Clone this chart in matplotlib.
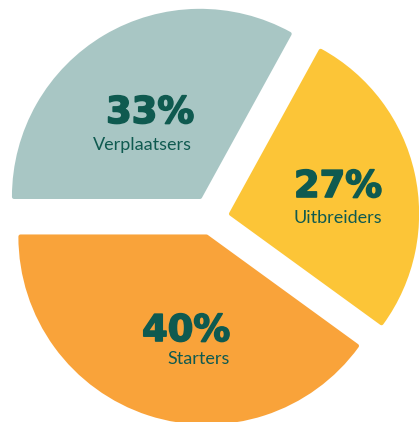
import matplotlib
matplotlib.use("Agg")
from matplotlib import pyplot as plt
from matplotlib import patheffects as pe

# data
groups = ['Verplaatsers', 'Uitbreiders', 'Starters']
shares = [33, 27, 40]
colors = ['#a8c6c4', '#fcc537', '#f9a33a']

W, H = 419, 422
TEXT_COLOR = '#0f5a50'


def px(x, y):
    # image pixel coords (y down) -> axes data coords (y up)
    return x, H - y


def plot_pie(name_output: str):
    fig = plt.figure(figsize=(W / 100, H / 100), dpi=100)
    ax = fig.add_axes([0, 0, 1, 1])

    center = px(212.5, 218)
    wedges, _ = ax.pie(shares, colors=colors, startangle=180, counterclock=False,
                       explode=[24.5, 19, 19.5], radius=186, center=center,
                       wedgeprops=dict(linewidth=3, joinstyle='round'))
    for w, c in zip(wedges, colors):
        w.set_edgecolor(c)

    ax.set_xlim(0, W)
    ax.set_ylim(0, H)
    ax.set_aspect('equal')
    ax.axis('off')

    # label positions (pixel coords of baselines)
    pct_pos = [(150, 123), (338, 197), (186, 341)]
    name_pos = [(142, 150), (338, 223), (199, 364)]
    heavy = [pe.withStroke(linewidth=1.2, foreground=TEXT_COLOR)]
    for g, s, pp, npos in zip(groups, shares, pct_pos, name_pos):
        ax.text(*px(*pp), f'{s}%', ha='center', va='baseline', fontsize=26.5,
                fontweight='bold', family='DejaVu Sans', color=TEXT_COLOR,
                path_effects=heavy)
        ax.text(*px(*npos), g, ha='center', va='baseline', fontsize=13,
                family='Lato', color=TEXT_COLOR)

    fig.savefig(name_output, dpi=100, facecolor='white')
    plt.close(fig)


plot_pie('out.png')
